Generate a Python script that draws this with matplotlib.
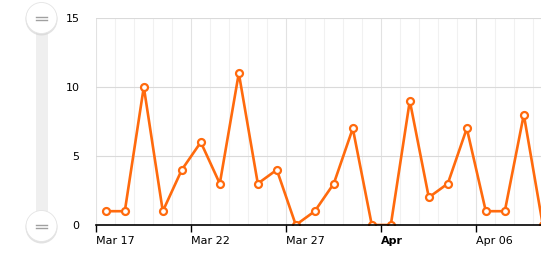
import numpy as np
import matplotlib
matplotlib.use('Agg')
import matplotlib.pyplot as plt
from matplotlib.patches import Circle, FancyBboxPatch

# daily values, Mar 17 .. Apr 9
days = ['Mar 17', 'Mar 18', 'Mar 19', 'Mar 20', 'Mar 21', 'Mar 22', 'Mar 23', 'Mar 24',
        'Mar 25', 'Mar 26', 'Mar 27', 'Mar 28', 'Mar 29', 'Mar 30', 'Mar 31', 'Apr 01',
        'Apr 02', 'Apr 03', 'Apr 04', 'Apr 05', 'Apr 06', 'Apr 07', 'Apr 08', 'Apr 09']
values = [1, 1, 10, 1, 4, 6, 3, 11, 3, 4, 0, 1, 3, 7, 0, 0, 9, 2, 3, 7, 1, 1, 8, 0]
tick_days = [0, 5, 10, 15, 20]
tick_labels = ['Mar 17', 'Mar 22', 'Mar 27', 'Apr', 'Apr 06']
y_ticks = [0, 5, 10, 15]

W, H = 541, 254
fig = plt.figure(figsize=(W / 100, H / 100), dpi=100)

left, right, top, bottom = 96.3, 541, 18, 225
ax = fig.add_axes([left / W, 1 - bottom / H, (right - left) / W, (bottom - top) / H])

x = np.arange(len(values)) + 0.5
xmax = (right - left) / 19.0
ax.set_xlim(0, xmax)
ax.set_ylim(0, 15)

# minor daily grid, major every 5 days
for d in range(0, int(xmax) + 1):
    c = '#e2e2e2' if d in tick_days else '#f1f1f1'
    ax.axvline(d, color=c, lw=0.8, zorder=0)
for yv in y_ticks:
    ax.axhline(yv, color='#dadada', lw=0.8, zorder=0)

ax.plot(x, values, color='#ff6a0d', lw=1.9, zorder=3, clip_on=True,
        marker='o', ms=5, mfc='white', mec='#ff6a0d', mew=1.6)

for s in ['top', 'right', 'left']:
    ax.spines[s].set_visible(False)
ax.spines['bottom'].set_color('black')
ax.spines['bottom'].set_linewidth(1.2)
ax.spines['bottom'].set_zorder(4)

ax.set_xticks(tick_days)
ax.set_xticklabels(tick_labels)
ax.tick_params(axis='x', length=5, width=1, color='black', pad=3, labelsize=8, labelcolor='#000000')
for lbl in ax.get_xticklabels():
    lbl.set_horizontalalignment('left')
    if lbl.get_text() == 'Apr':
        lbl.set_fontweight('bold')
ax.set_yticks(y_ticks)
ax.tick_params(axis='y', length=0, pad=12, labelsize=8, labelcolor='#000000')

# vertical scrollbar on the left
fax = fig.add_axes([0, 0, 1, 1])
fax.set_xlim(0, W)
fax.set_ylim(H, 0)
fax.axis('off')
fax.add_patch(FancyBboxPatch((36, 30), 11.5, 185, boxstyle='square,pad=0',
                             fc='#efefef', ec='none'))
for cy in [18, 226]:
    fax.add_patch(Circle((41.5, cy + 1.5), 16, fc='#d0d0d0', ec='none', alpha=0.6))
    fax.add_patch(Circle((41.5, cy), 15.5, fc='white', ec='#e4e4e4', lw=0.6))
    fax.plot([36, 47], [cy - 1.5, cy - 1.5], color='#a0a0a0', lw=1)
    fax.plot([36, 47], [cy + 1.5, cy + 1.5], color='#a0a0a0', lw=1)

fig.savefig('out.png', dpi=100)
